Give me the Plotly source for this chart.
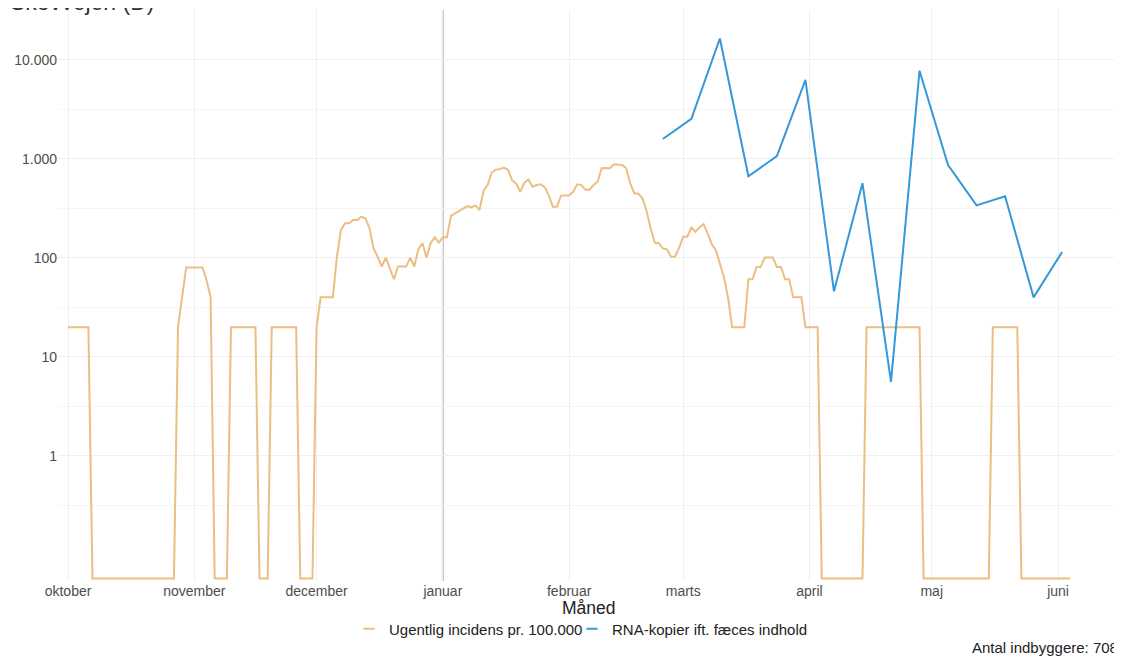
import pandas as pd
import plotly.graph_objects as go

# ugentlig incidens pr. 100.000, daglige værdier fra 1. oktober 2020 (0 = ingen tilfælde)
incidens_start = "2020-10-01"
incidens_okt = [20, 20, 20, 20, 20, 20] + [0] * 21 + [20, 40, 80, 80]
incidens_nov = [80, 80, 80, 60, 40, 0, 0, 0, 0] + [20] * 7 + [0, 0, 0] + [20] * 7 + [0, 0, 0, 0]
incidens_dec = [20, 40, 40, 40, 40, 103, 192, 224, 224, 242, 242, 262, 250, 200, 125, 103,
                82, 101, 80, 61, 82, 82, 82, 101, 82, 123, 141, 101, 141, 162, 143]
incidens_jan = [162, 162, 266, 282, 298, 316, 334, 325, 340, 305, 478, 545, 730, 778, 790, 820,
                778, 610, 565, 466, 575, 620, 525, 545, 556, 520, 430, 330, 330, 425, 425]
incidens_feb = [430, 466, 555, 545, 490, 490, 545, 590, 805, 810, 805, 885, 885, 870, 805, 565,
                450, 445, 400, 300, 200, 143, 141, 125, 122, 103, 103, 127]
incidens_mar = [164, 164, 203, 184, 203, 220, 177, 138, 120, 85, 64, 40, 20, 20, 20, 20, 61, 61,
                81, 81, 101, 101, 101, 81, 81, 61, 61, 40, 40, 40, 20]
incidens_apr = [20, 20, 20] + [0] * 11 + [20] * 14 + [0, 0]
incidens_maj = [0] * 15 + [20] * 7 + [0] * 9
incidens_jun = [0, 0, 0, 0]

# RNA-kopier ift. fæces indhold, ugentlige prøver
rna_datoer = ["2021-02-24", "2021-03-03", "2021-03-10", "2021-03-17", "2021-03-24",
              "2021-03-31", "2021-04-07", "2021-04-14", "2021-04-21", "2021-04-28",
              "2021-05-05", "2021-05-12", "2021-05-19", "2021-05-26", "2021-06-02"]
rna_vaerdier = [1590, 2540, 16500, 670, 1070, 6300, 46, 570, 5.6, 7800, 870, 340, 420, 40, 115]

maaned_datoer = ["2020-10-01", "2020-11-01", "2020-12-01", "2021-01-01", "2021-02-01",
                 "2021-03-01", "2021-04-01", "2021-05-01", "2021-06-01"]
maaned_navne = ["oktober", "november", "december", "januar", "februar",
                "marts", "april", "maj", "juni"]
aarsskifte = "2021-01-01"

y_ticks = [1, 10, 100, 1000, 10000]
y_labels = ["1", "10", "100", "1.000", "10.000"]

ORANGE = "#EBBF82"
BLUE = "#3498DB"
FONT = "Liberation Sans, Arial, sans-serif"
BUND = 0.058  # nuller tegnes i bunden af panelet, som -Inf i ggplot

incidens = (incidens_okt + incidens_nov + incidens_dec + incidens_jan + incidens_feb
            + incidens_mar + incidens_apr + incidens_maj + incidens_jun)
datoer = pd.date_range(incidens_start, periods=len(incidens), freq="D")
incidens_plot = [v if v > 0 else BUND for v in incidens]

fig = go.Figure()
fig.add_trace(go.Scatter(x=datoer, y=incidens_plot, mode="lines",
                         line=dict(color=ORANGE, width=2), showlegend=False))
fig.add_trace(go.Scatter(x=pd.to_datetime(rna_datoer), y=rna_vaerdier, mode="lines",
                         line=dict(color=BLUE, width=2), showlegend=False))

# korte streger i forklaringen, hver i sin egen legend så afstanden kan styres
for navn, farve, lg in [("Ugentlig incidens pr. 100.000", ORANGE, "legend"),
                        ("RNA-kopier ift. fæces indhold", BLUE, "legend2")]:
    fig.add_trace(go.Scatter(x=[None], y=[None], mode="markers", name=navn, legend=lg,
                             marker=dict(symbol="line-ew", size=8,
                                         line=dict(color=farve, width=2))))

fig.add_vline(x=pd.Timestamp(aarsskifte).timestamp() * 1000,
              line=dict(color="#BDBDBD", width=2), layer="below")

minor_vals = [10 ** (k + 0.5) for k in range(-2, 5)]
legend_stil = dict(orientation="h", xanchor="left", y=-0.084, yanchor="middle",
                   font=dict(size=15, color="#222222"), itemwidth=30,
                   bgcolor="rgba(0,0,0,0)")

# siden har 8 px margin i body, så figuren er 8 px mindre
fig.update_layout(
    width=1114, height=649,
    margin=dict(l=50, r=2, t=2, b=76),
    paper_bgcolor="white", plot_bgcolor="white",
    font=dict(family=FONT, size=14, color="#222222"),
    xaxis=dict(
        range=["2020-09-28 13:00", "2021-06-16 05:00"],
        tickvals=pd.to_datetime(maaned_datoer), ticktext=maaned_navne,
        tickfont=dict(size=14, color="#4D4D4D"),
        showgrid=True, gridcolor="#EFEFEF", gridwidth=1,
        zeroline=False, showline=False, ticks="", automargin=False,
    ),
    yaxis=dict(
        type="log", range=[-1.263, 4.505],
        tickvals=y_ticks, ticktext=y_labels,
        tickfont=dict(size=14, color="#4D4D4D"),
        showgrid=True, gridcolor="#EFEFEF", gridwidth=1,
        minor=dict(tickvals=minor_vals, showgrid=True, gridcolor="#F5F5F5", gridwidth=1, ticks=""),
        zeroline=False, showline=False, ticks="", automargin=False,
    ),
    legend=dict(x=0.2740, **legend_stil),
    legend2=dict(x=0.4840, **legend_stil),
    annotations=[
        dict(text="Skovvejen (D)", xref="paper", yref="paper", x=-0.0471, y=1.014,
             xanchor="left", yanchor="middle", showarrow=False,
             font=dict(size=23, color="#333333")),
        dict(text="Måned", xref="paper", yref="paper", x=0.5, y=-0.0473,
             xanchor="center", yanchor="middle", showarrow=False,
             font=dict(size=17.5, color="#222222")),
        dict(text="Antal indbyggere: 708", xref="paper", yref="paper", x=1, y=-0.1156,
             xanchor="right", yanchor="middle", showarrow=False,
             font=dict(size=15, color="#222222")),
    ],
)

fig.write_html("out.html")
